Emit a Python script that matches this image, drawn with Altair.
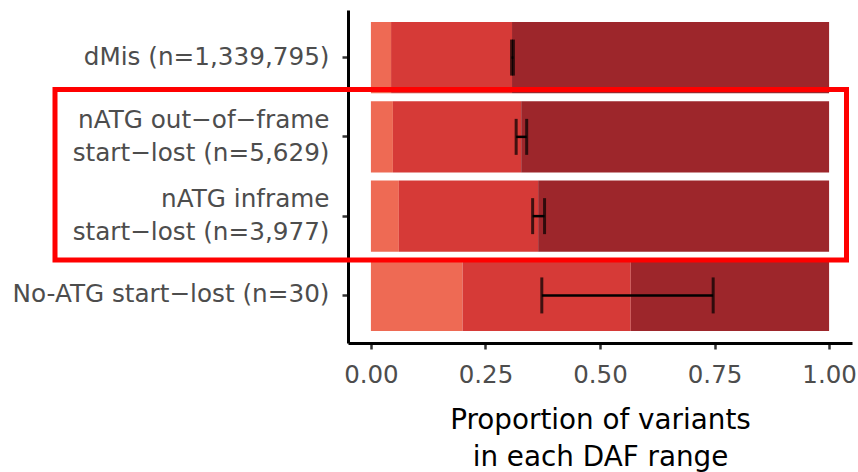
import altair as alt
import pandas as pd

categories = [
    "dMis (n=1,339,795)",
    "nATG out\u2212of\u2212frame\nstart\u2212lost (n=5,629)",
    "nATG inframe\nstart\u2212lost (n=3,977)",
    "No-ATG start\u2212lost (n=30)",
]
daf_ranges = ["high DAF", "mid DAF", "low DAF"]
seg_light = [0.044, 0.048, 0.061, 0.200]
seg_medium = [0.264, 0.280, 0.304, 0.367]
seg_dark = [0.692, 0.672, 0.635, 0.433]
err_low = [0.307, 0.317, 0.353, 0.373]
err_high = [0.311, 0.340, 0.379, 0.747]
x_ticks = [0.0, 0.25, 0.5, 0.75, 1.0]
colors = ["#EE6A54", "#D63A37", "#9D262B"]

rows = []
for i, c in enumerate(categories):
    start = 0.0
    for name, seg in zip(daf_ranges, [seg_light, seg_medium, seg_dark]):
        rows.append({"cat": c, "range": name, "x": start, "x2": start + seg[i]})
        start += seg[i]
bars_df = pd.DataFrame(rows)
err_df = pd.DataFrame({"cat": categories, "lo": err_low, "hi": err_high})

FONT = "DejaVu Sans"

y_enc = alt.Y(
    "cat:N",
    sort=categories,
    scale=alt.Scale(paddingInner=0.1, paddingOuter=0.15),
    axis=alt.Axis(
        title=None,
        labelExpr="split(datum.label, '\\n')",
        labelOffset={"condition": {"test": "indexof(datum.label, '\\n') >= 0", "value": -16}, "value": 0},
        labelFontSize=24.7,
        labelLineHeight=33,
        labelPadding=13,
        labelColor="#4D4D4D",
        labelFont=FONT,
        labelLimit=400,
    ),
)

x_scale = alt.Scale(domain=[-0.05, 1.05], nice=False, zero=False)

bars = alt.Chart(bars_df).mark_bar().encode(
    y=y_enc,
    x=alt.X(
        "x:Q",
        scale=x_scale,
        axis=alt.Axis(
            values=x_ticks,
            format=".2f",
            title=["Proportion of variants", "in each DAF range"],
            titleFontSize=27.8,
            titleFont=FONT,
            titleFontWeight="normal",
            titleColor="#000000",
            titleLineHeight=37,
            titleBaseline="top",
            titleY=63,
            labelFontSize=24.5,
            labelFont=FONT,
            labelColor="#4D4D4D",
            labelPadding=14,
        ),
    ),
    x2="x2:Q",
    color=alt.Color("range:N", scale=alt.Scale(domain=daf_ranges, range=colors), legend=None),
)

err_line = alt.Chart(err_df).mark_rule(color="black", strokeWidth=2.5).encode(
    y=alt.Y("cat:N", sort=categories),
    x=alt.X("lo:Q", scale=x_scale),
    x2="hi:Q",
)
err_lo = alt.Chart(err_df).mark_tick(color="black", orient="vertical", size=36, thickness=3).encode(
    y=alt.Y("cat:N", sort=categories),
    x=alt.X("lo:Q", scale=x_scale),
)
err_hi = alt.Chart(err_df).mark_tick(color="black", orient="vertical", size=36, thickness=3).encode(
    y=alt.Y("cat:N", sort=categories),
    x=alt.X("hi:Q", scale=x_scale),
)

box = alt.Chart(pd.DataFrame({"a": [0]})).mark_rect(
    filled=False, stroke="#FF0000", strokeWidth=5
).encode(
    x=alt.value(-293), x2=alt.value(498.5), y=alt.value(79.5), y2=alt.value(250)
)

chart = alt.layer(bars, err_line, err_lo, err_hi, box).properties(
    width=504,
    height=333,
    autosize=alt.AutoSizeParams(type="none"),
    padding={"left": 348, "top": 10, "right": 6, "bottom": 129},
    background="white",
).configure_view(stroke=None).configure_axis(
    grid=False,
    domainColor="black",
    domainWidth=3,
    tickColor="#333333",
    tickWidth=2.5,
    tickSize=6,
)

chart.save("out.html", embed_options={"renderer": "svg", "actions": False})
